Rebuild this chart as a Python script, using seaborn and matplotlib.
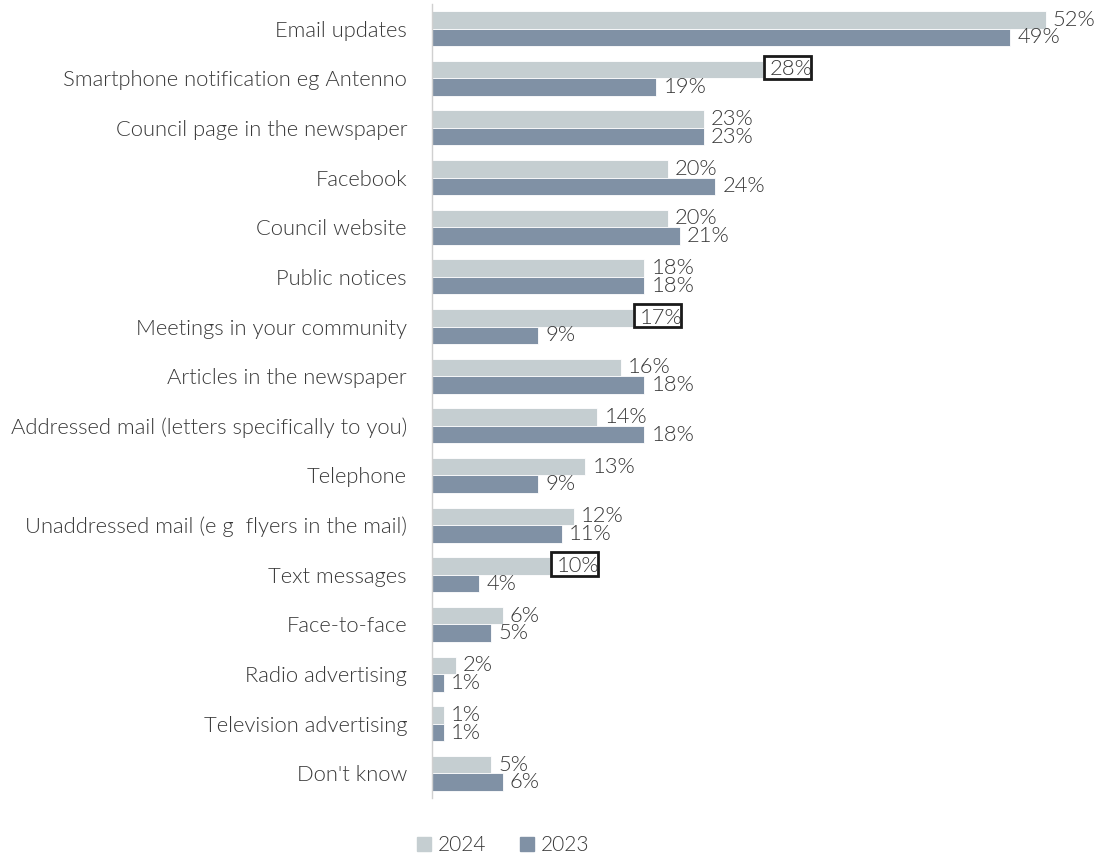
import matplotlib
matplotlib.use("Agg")
import matplotlib.pyplot as plt
from matplotlib.patches import Rectangle
import seaborn as sns
import pandas as pd

categories = [
    "Email updates",
    "Smartphone notification eg Antenno",
    "Council page in the newspaper",
    "Facebook",
    "Council website",
    "Public notices",
    "Meetings in your community",
    "Articles in the newspaper",
    "Addressed mail (letters specifically to you)",
    "Telephone",
    "Unaddressed mail (e g  flyers in the mail)",
    "Text messages",
    "Face-to-face",
    "Radio advertising",
    "Television advertising",
    "Don't know",
]
values_2024 = [52, 28, 23, 20, 20, 18, 17, 16, 14, 13, 12, 10, 6, 2, 1, 5]
values_2023 = [49, 19, 23, 24, 21, 18, 9, 18, 18, 9, 11, 4, 5, 1, 1, 6]
# 2024 results flagged as notable changes
highlighted_2024 = ["Smartphone notification eg Antenno", "Meetings in your community", "Text messages"]

years = ["2024", "2023"]
colors = {"2024": "#c5ced1", "2023": "#8091a5"}

df = pd.concat([
    pd.DataFrame({"category": categories, "value": values_2024, "year": "2024"}),
    pd.DataFrame({"category": categories, "value": values_2023, "year": "2023"}),
])

sns.set_theme(style="white")
plt.rcParams["font.family"] = ["Lato", "DejaVu Sans"]
plt.rcParams["font.weight"] = 300
text_color = "#383838"
fs = 15.8

fig = plt.figure(figsize=(10.99, 8.55), dpi=100)
ax = fig.add_axes([432 / 1099, 1 - 798.3 / 855, 1 - 432 / 1099, 794.6 / 855])

sns.barplot(data=df, y="category", x="value", hue="year", order=categories,
            hue_order=years, palette=colors, saturation=1, orient="h", width=0.705,
            edgecolor="white", linewidth=0.6, legend=False, ax=ax)

ax.set_xlim(0, 56.5)
ax.set_ylim(15.5, -0.5)
ax.set_xlabel("")
ax.set_ylabel("")
ax.set_xticks([])
ax.tick_params(axis="y", length=0, pad=18, labelsize=fs, labelcolor=text_color)
for lbl in ax.get_yticklabels():
    lbl.set_fontweight(300)
for s in ["top", "right", "bottom"]:
    ax.spines[s].set_visible(False)
ax.spines["left"].set_color("#d0d0d0")
ax.spines["left"].set_linewidth(1)

for container, year in zip(ax.containers, years):
    for bar, cat in zip(container, categories):
        w = bar.get_width()
        y0, h = bar.get_y(), bar.get_height()
        ax.text(w + 0.6, y0 + h / 2, f"{w:.0f}%", va="center", ha="left",
                fontsize=fs, fontweight=300, color=text_color, zorder=3)
        if year == "2024" and cat in highlighted_2024:
            ax.add_patch(Rectangle((w + 0.12, y0 - 0.1), 3.95, h + 0.12,
                                   facecolor="none", edgecolor="#1a1a1a",
                                   linewidth=2, zorder=4, clip_on=False))

handles = [plt.Rectangle((0, 0), 1, 1, color=colors[y]) for y in years]
leg = fig.legend(handles, years, loc="center", bbox_to_anchor=(503 / 1099, 1 - 845 / 855),
                 ncol=2, frameon=False, fontsize=15, handlelength=0.67,
                 handleheight=0.67, columnspacing=1.6, handletextpad=0.34)
for t in leg.get_texts():
    t.set_color(text_color)
    t.set_fontweight(300)

fig.savefig("out.png", dpi=100)
